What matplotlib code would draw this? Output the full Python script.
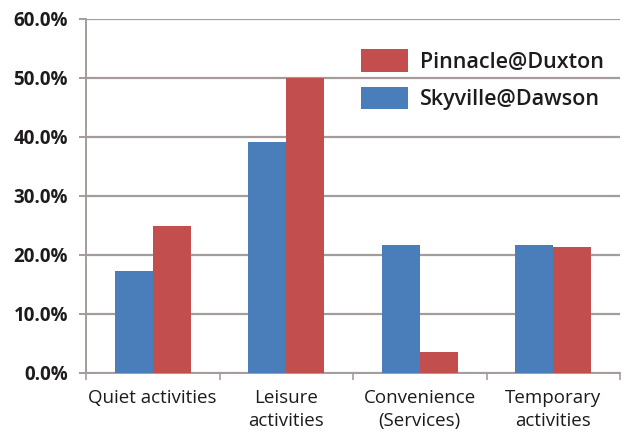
import matplotlib
matplotlib.use("Agg")
import matplotlib.pyplot as plt
import numpy as np
from matplotlib.patches import Patch
from matplotlib.ticker import FuncFormatter, FixedLocator

categories = ["Quiet activities", "Leisure\nactivities", "Convenience\n(Services)", "Temporary\nactivities"]
skyville = [17.3, 39.1, 21.7, 21.7]
pinnacle = [24.9, 50.0, 3.5, 21.4]
y_ticks = [0, 10, 20, 30, 40, 50, 60]

blue = "#4A7EBB"
red = "#C24F4D"
grid_col = "#A39C9A"
text_col = "#1E1B1C"

fig = plt.figure(figsize=(6.26, 4.37), dpi=100)
ax = fig.add_axes([86 / 626, 64.3 / 437, 534 / 626, 353.7 / 437])

x = np.arange(len(categories))
w = 0.285
ax.bar(x - w / 2, skyville, width=w, color=blue, zorder=3)
ax.bar(x + w / 2, pinnacle, width=w, color=red, zorder=3)

ax.set_xlim(-0.5, len(categories) - 0.5)
ax.set_ylim(0, 60)
ax.set_yticks(y_ticks)
ax.yaxis.set_major_formatter(FuncFormatter(lambda v, p: f"{v:.1f}%"))
ax.yaxis.grid(True, color=grid_col, linewidth=1.6, zorder=0)
ax.set_axisbelow(True)

ax.set_xticks(x)
ax.set_xticklabels(categories, fontsize=13.5, color=text_col, family="Open Sans",
                   fontweight="medium", linespacing=1.3)
ax.xaxis.set_minor_locator(FixedLocator(np.arange(-0.5, len(categories), 1.0)))
ax.tick_params(axis="x", which="major", length=0, pad=12)
ax.tick_params(axis="x", which="minor", length=5, width=1.2, color=grid_col)
ax.tick_params(axis="y", length=5, width=1.4, color=grid_col, pad=8)
for lbl in ax.get_yticklabels():
    lbl.set_fontsize(13.5)
    lbl.set_fontweight("bold")
    lbl.set_family("Open Sans")
    lbl.set_color(text_col)

for s in ["top", "right"]:
    ax.spines[s].set_visible(False)
for s in ["left", "bottom"]:
    ax.spines[s].set_color(grid_col)
    ax.spines[s].set_linewidth(1.4)

handles = [Patch(facecolor=red, edgecolor="none", label="Pinnacle@Duxton"),
           Patch(facecolor=blue, edgecolor="none", label="Skyville@Dawson")]
leg = ax.legend(handles=handles, loc="upper left", bbox_to_anchor=(361 / 626, 1 - 49 / 437),
                bbox_transform=fig.transFigure, frameon=False,
                prop={"family": "Open Sans", "weight": "semibold", "size": 15.5},
                handlelength=2.2, handleheight=1.25, handletextpad=0.55,
                labelspacing=0.65, borderpad=0, borderaxespad=0)
for t in leg.get_texts():
    t.set_color(text_col)

fig.savefig("out.png", dpi=100, facecolor="white")
